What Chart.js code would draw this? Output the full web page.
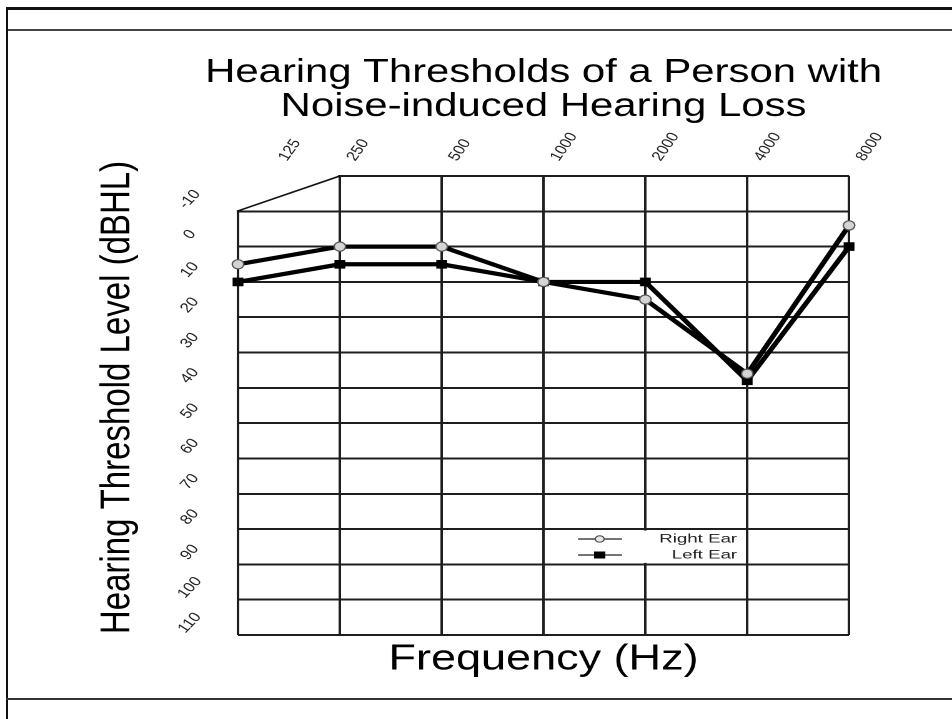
<!DOCTYPE html>
<html><head><meta charset="utf-8">
<script src="https://cdn.jsdelivr.net/npm/chart.js@4/dist/chart.umd.min.js"></script>
<style>
html,body{margin:0;padding:0;background:#fff;}
body{width:952px;height:719px;position:relative;overflow:hidden;}
#wrap{position:absolute;left:0;top:0;width:762px;height:719px;transform:scaleX(1.24934);transform-origin:0 0;}
.ln{position:absolute;background:#111;}
</style></head><body>
<div id="wrap"><canvas id="c" width="762" height="719"></canvas></div>
<div class="ln" style="left:6px;top:7px;width:946px;height:3px;"></div>
<div class="ln" style="left:6px;top:29px;width:946px;height:2px;background:#444"></div>
<div class="ln" style="left:6px;top:7px;width:2px;height:712px;"></div>
<div class="ln" style="left:6px;top:698px;width:946px;height:2px;background:#333"></div>
<script>
// ---- data ----
const frequencies = [125, 250, 500, 1000, 2000, 4000, 8000];
const frequencyLabels = ['125', '250', '500', '1000', '2000', '4000', '8000'];
const rightEar = [5, 0, 0, 10, 15, 36, -6];
const leftEar = [10, 5, 5, 10, 10, 38, 0];
const thresholdTicks = [-20, -10, 0, 10, 20, 30, 40, 50, 60, 70, 80, 90, 100, 110];
const thresholdLabels = ['', '-10', '0', '10', '20', '30', '40', '50', '60', '70', '80', '90', '100', '110'];
const seriesNames = ['Right Ear', 'Left Ear'];

const FONT = "'Liberation Sans', Arial, Helvetica, sans-serif";

const cornerPlugin = {
  id: 'cornerPlugin',
  afterLayout(chart) {
    chart.scales.yTitle.top -= 16;
    const t = chart.titleBlock, a = chart.chartArea;
    if (t) { t.left = a.left - 70; t.right = a.right + 70; t.width = t.right - t.left; }
  },
  beforeDatasetsDraw(chart) {
    const {ctx, scales: {x, y}} = chart;
    const xa = x.getPixelForValue(frequencies[0]);
    const xb = x.getPixelForValue(frequencies[1]);
    const yTop = y.getPixelForValue(thresholdTicks[0]);
    const yCut = y.getPixelForValue(thresholdTicks[1]);
    ctx.save();
    ctx.fillStyle = '#fff';
    ctx.beginPath();
    ctx.moveTo(xa - 4, yTop - 4);
    ctx.lineTo(xb - 1.3, yTop - 4);
    ctx.lineTo(xb - 1.3, yTop);
    ctx.lineTo(xa, yCut - 0.5);
    ctx.lineTo(xa - 4, yCut - 0.5);
    ctx.closePath();
    ctx.fill();
    ctx.strokeStyle = '#111';
    ctx.lineWidth = 1.6;
    ctx.beginPath();
    ctx.moveTo(xa - 1, yCut);
    ctx.lineTo(xb, yTop);
    ctx.stroke();
    ctx.restore();
  }
};

const insideLegend = {
  id: 'insideLegend',
  afterDatasetsDraw(chart) {
    const {ctx, chartArea: a, scales: {y}} = chart;
    const ds = chart.data.datasets;
    const lx0 = a.right - 217, lx1 = a.right - 181.7, mx = a.right - 199.6;
    const textRight = a.right - 89.6;
    const rowsY = [a.bottom - 96, a.bottom - 80];
    ctx.save();
    // white legend background between two grid rows
    const bTop = y.getPixelForValue(80) + 1.5, bBot = y.getPixelForValue(90) - 1.5;
    ctx.fillStyle = '#fff';
    ctx.fillRect(a.right - 226, bTop, 141, bBot - bTop);
    ds.forEach((d, i) => {
      const yy = rowsY[i];
      ctx.strokeStyle = '#222';
      ctx.lineWidth = 1.3;
      ctx.beginPath(); ctx.moveTo(lx0, yy); ctx.lineTo(lx1, yy); ctx.stroke();
      if (d.pointStyle === 'circle') {
        ctx.fillStyle = '#e6e6e6'; ctx.strokeStyle = '#444'; ctx.lineWidth = 1;
        ctx.beginPath(); ctx.ellipse(mx, yy, 3.6, 3.2, 0, 0, Math.PI * 2); ctx.fill(); ctx.stroke();
      } else {
        ctx.fillStyle = '#000';
        ctx.fillRect(mx - 4.5, yy - 3.5, 9, 7);
      }
      ctx.save();
      ctx.translate(textRight, yy);
      ctx.scale(1.3, 1);
      ctx.font = '11.5px ' + FONT;
      ctx.fillStyle = '#222';
      ctx.textAlign = 'right';
      ctx.textBaseline = 'middle';
      ctx.fillText(d.label, 0, 0.5);
      ctx.restore();
    });
    ctx.restore();
  }
};

const toPoints = vals => frequencies.map((f, i) => ({x: f, y: vals[i]}));

new Chart(document.getElementById('c'), {
  type: 'line',
  data: {
    datasets: [
      {
        label: seriesNames[0], data: toPoints(rightEar),
        borderColor: '#000', borderWidth: 4.2, tension: 0, clip: false,
        pointStyle: 'circle', pointRadius: 4.6, pointBackgroundColor: '#d4d4d4',
        pointBorderColor: '#555', pointBorderWidth: 1.2,
        xAxisID: 'x', yAxisID: 'y'
      },
      {
        label: seriesNames[1], data: toPoints(leftEar),
        borderColor: '#000', borderWidth: 4.2, tension: 0, clip: false,
        pointStyle: 'rect', pointRadius: 5.4, pointBackgroundColor: '#000',
        pointBorderColor: '#000', pointBorderWidth: 1,
        xAxisID: 'x', yAxisID: 'y'
      }
    ]
  },
  options: {
    responsive: false,
    animation: false,
    devicePixelRatio: 2,
    layout: {padding: {left: 70, right: 82.4, top: 20, bottom: 0}},
    plugins: {
      legend: {display: false},
      tooltip: {enabled: false},
      title: {
        display: true, fullSize: false,
        text: ['Hearing Thresholds of a Person with', 'Noise-induced Hearing Loss'],
        color: '#000',
        font: {family: FONT, size: 33.5, weight: 'normal', lineHeight: 34 / 33.5},
        padding: {top: 36, bottom: 0}
      }
    },
    scales: {
      x: {
        type: 'logarithmic', position: 'bottom', min: 125, max: 8000,
        afterBuildTicks: s => { s.ticks = frequencies.map(v => ({value: v})); },
        ticks: {display: false},
        grid: {color: '#1e1e1e', lineWidth: 2, drawTicks: false},
        border: {display: false},
        title: {
          display: true, text: 'Frequency (Hz)', color: '#000',
          font: {family: FONT, size: 36, lineHeight: 1.2},
          padding: {top: 0, bottom: 38}
        },
        afterFit: s => { s.height = 84; }
      },
      xTop: {
        type: 'logarithmic', position: 'top', min: 125, max: 8000,
        afterBuildTicks: s => {
          s.ticks = frequencies.map((v, i) => ({value: i === 0 ? v * Math.pow(2, 0.33) : v}));
        },
        ticks: {
          autoSkip: false, minRotation: 60, maxRotation: 60, padding: 12, labelOffset: 23,
          color: '#222', font: {family: FONT, size: 13.5},
          callback: (v, i) => frequencyLabels[i]
        },
        grid: {display: false, drawTicks: false},
        border: {display: false},
        afterFit: s => { s.height = 52; }
      },
      y: {
        type: 'linear', position: 'left', weight: 0, min: -20, max: 110, reverse: true,
        afterBuildTicks: s => { s.ticks = thresholdTicks.map(v => ({value: v})); },
        ticks: {
          autoSkip: false, minRotation: 52, maxRotation: 52, crossAlign: 'center', padding: 27.25,
          labelOffset: -12,
          color: '#222', font: {family: FONT, size: 13.5},
          callback: (v, i) => thresholdLabels[i]
        },
        grid: {color: '#1e1e1e', lineWidth: 2, drawTicks: false},
        border: {display: false},
        afterFit: s => { s.width = 55; }
      },
      yTitle: {
        type: 'linear', position: 'left', weight: 1, min: -20, max: 110, reverse: true,
        ticks: {display: false},
        grid: {display: false, drawTicks: false},
        border: {display: false},
        title: {
          display: true, text: 'Hearing Threshold Level (dBHL)', color: '#000',
          font: {family: FONT, size: 33, lineHeight: 1.03},
          padding: {top: 7.5, bottom: 0}
        },
        afterFit: s => { s.width = 65.5; }
      }
    }
  },
  plugins: [cornerPlugin, insideLegend]
});
</script>
</body></html>
